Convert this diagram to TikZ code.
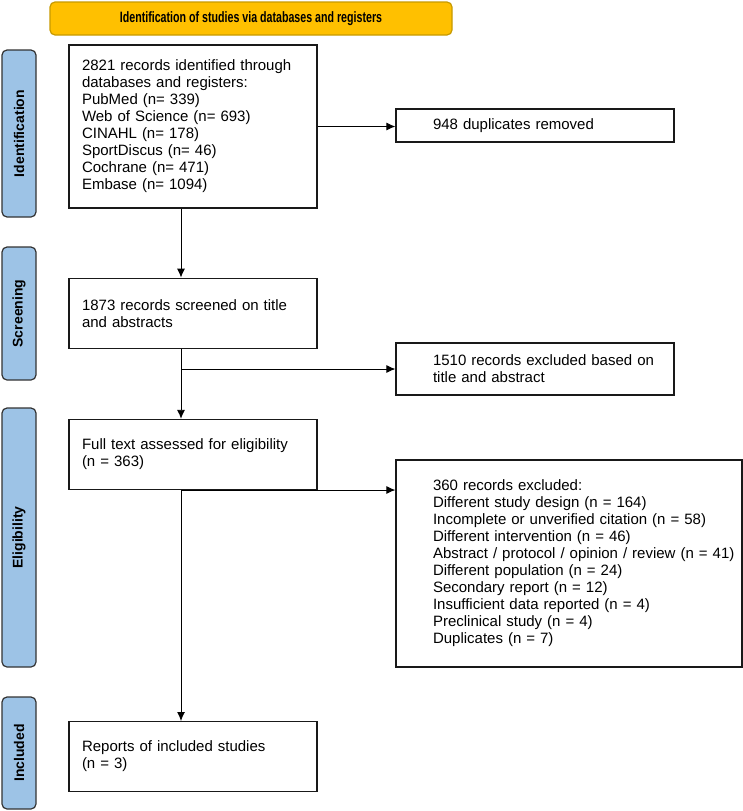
\documentclass[tikz,border=0pt]{standalone}
\usepackage{fontspec}
\setmainfont{Liberation Sans}
\usetikzlibrary{arrows.meta,positioning}

\definecolor{headgold}{HTML}{FFC000}
\definecolor{headedge}{HTML}{C79A00}
\definecolor{phaseblue}{HTML}{9DC3E6}

\begin{document}
\begin{tikzpicture}[
    x=1pt, y=-1pt,
    block/.style={rectangle, draw=black!90, line width=1.2pt, minimum width=248pt, minimum height=70pt, inner xsep=13pt, text width=222pt, align=left, font=\fontsize{15}{17}\selectfont},
    outbox/.style={block, minimum width=278pt, text width=252pt, execute at begin node={\leftskip=24pt}},
    phase/.style={rectangle, rounded corners=5pt, draw=black!80, line width=1.2pt, fill=phaseblue, rotate=90, minimum height=34pt, font=\fontsize{14}{16}\selectfont\bfseries},
    line/.style={draw, -{Latex[length=9pt,width=8pt]}, line width=0.9pt, color=black}
]
    \useasboundingbox (0,0) rectangle (743,811);

    % Title bar
    \node [draw=headedge, fill=headgold, rounded corners=5pt, line width=1.2pt, minimum width=402pt, minimum height=33pt, font=\fontsize{15}{17}\selectfont\bfseries] (head) at (251,18.5) {\scalebox{0.71}[1]{Identification of studies via databases and registers}};

    % Phases
    \node [phase, minimum width=167pt] (pident) at (19,133.5) {Identification};
    \node [phase, minimum width=133pt] (pscreen) at (19,313.5) {Screening};
    \node [phase, minimum width=259pt] (pelig) at (19,537.5) {Eligibility};
    \node [phase, minimum width=112pt] (pincl) at (19,753) {Included};

    % Main flow
    \node [block, minimum height=163pt] (ident) at (193,126.5) {2821 records identified through \\ databases and registers: \\ PubMed (n= 339) \\ Web of Science (n= 693) \\ CINAHL (n= 178) \\ SportDiscus (n= 46) \\ Cochrane (n= 471) \\ Embase (n= 1094)};
    \node [block, below=69pt of ident] (screen) {1873 records screened on title \\ and abstracts};
    \node [block, below=70pt of screen] (full) {Full text assessed for eligibility \\ (n = 363)};
    \node [block, below=231pt of full] (incl) {Reports of included studies \\ (n = 3)};

    % Exclusions
    \node [outbox, minimum height=33pt] (dup) at (535,125.5) {948 duplicates removed};
    \node [outbox, minimum height=52pt] (excl1) at (535,369) {1510 records excluded based on \\ title and abstract};
    \node [outbox, minimum width=346pt, inner xsep=5pt, text width=336pt, minimum height=207pt, execute at begin node={\leftskip=32pt}] (excl2) at (569,563.5) {360 records excluded: \\ Different study design (n = 164) \\ Incomplete or unverified citation (n = 58) \\ Different intervention (n = 46) \\ Abstract / protocol / opinion / review (n = 41) \\ Different population (n = 24) \\ Secondary report (n = 12) \\ Insufficient data reported (n = 4) \\ Preclinical study (n = 4) \\ Duplicates (n = 7)};

    % Routing
    \coordinate (trunk) at (181,0);
    \coordinate (split) at (181,490);
    \path [line] (ident.south -| trunk) -- (screen.north -| trunk);
    \path [line] (ident.east) -- (ident.east -| dup.west);
    \path [line] (screen.south -| trunk) -- (full.north -| trunk);
    \path [line] (trunk |- excl1.west) -- (excl1.west);
    \path [line] (full.south -| trunk) -- (incl.north -| trunk);
    \path [line] (split) -- (split -| excl2.west);
\end{tikzpicture}
\end{document}
